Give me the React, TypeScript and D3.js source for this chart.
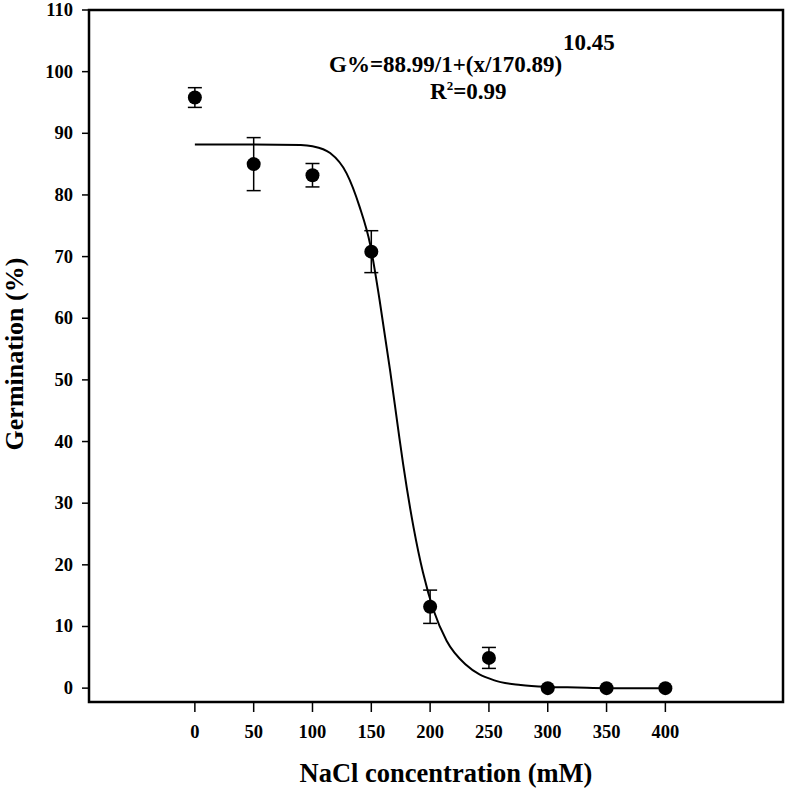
import React, { useEffect, useRef } from 'react';
import * as d3 from 'd3';

// NaCl concentration (mM) and mean germination (%) with error bars
const nacl = [0, 50, 100, 150, 200, 250, 300, 350, 400];
const germination = [95.8, 85.0, 83.2, 70.8, 13.2, 4.9, 0, 0, 0];
const errors = [1.6, 4.3, 1.9, 3.4, 2.7, 1.7, 0, 0, 0];

// fitted curve
const fitX = [0, 50, 90, 100, 115, 129, 140, 149, 157, 166, 173, 177, 186, 194, 203, 214, 231, 254, 277, 300, 325, 350, 400];
const fitY = [88.2, 88.2, 88.1, 87.9, 86.8, 83.5, 78.1, 72.0, 63.0, 51.5, 41.8, 36.4, 26.0, 18.7, 12.6, 7.7, 3.7, 1.3, 0.5, 0.2, 0.1, 0, 0];

const xTicks = [0, 50, 100, 150, 200, 250, 300, 350, 400];
const yTicks = [0, 10, 20, 30, 40, 50, 60, 70, 80, 90, 100, 110];

const equation = 'G%=88.99/1+(x/170.89)';
const exponent = '10.45';
const rSquared = '=0.99';

const FONT = '"Liberation Serif", "Times New Roman", serif';

const App: React.FC = () => {
  const svgRef = useRef<SVGSVGElement>(null);

  useEffect(() => {
    if (!svgRef.current) return;
    const svg = d3.select(svgRef.current);
    svg.selectAll('*').remove();

    const left = 89, right = 783, top = 10, bottom = 702;

    const x = d3.scaleLinear().domain([-90, 500]).range([left, right]);
    const y = d3.scaleLinear().domain([-2.25, 110]).range([bottom, top]);

    svg.append('rect')
      .attr('x', left)
      .attr('y', top)
      .attr('width', right - left)
      .attr('height', bottom - top)
      .attr('fill', 'none')
      .attr('stroke', '#000')
      .attr('stroke-width', 2.5);

    // y ticks
    const yAxis = svg.append('g');
    yTicks.forEach(t => {
      yAxis.append('line')
        .attr('x1', left - 7)
        .attr('x2', left)
        .attr('y1', y(t))
        .attr('y2', y(t))
        .attr('stroke', '#000')
        .attr('stroke-width', 1.5);
      yAxis.append('text')
        .attr('x', left - 16)
        .attr('y', y(t) + 6)
        .attr('text-anchor', 'end')
        .style('font-family', FONT)
        .style('font-size', '18.5px')
        .style('font-weight', 'bold')
        .text(t);
    });

    // x ticks
    const xAxis = svg.append('g');
    xTicks.forEach(t => {
      xAxis.append('line')
        .attr('x1', x(t))
        .attr('x2', x(t))
        .attr('y1', bottom)
        .attr('y2', bottom + 10)
        .attr('stroke', '#000')
        .attr('stroke-width', 1.5);
      xAxis.append('text')
        .attr('x', x(t))
        .attr('y', 738)
        .attr('text-anchor', 'middle')
        .style('font-family', FONT)
        .style('font-size', '18.5px')
        .style('font-weight', 'bold')
        .text(t);
    });

    svg.append('text')
      .attr('x', 446)
      .attr('y', 782)
      .attr('text-anchor', 'middle')
      .style('font-family', FONT)
      .style('font-size', '26.5px')
      .style('font-weight', 'bold')
      .text('NaCl concentration (mM)');

    svg.append('text')
      .attr('transform', 'translate(23,354) rotate(-90)')
      .attr('text-anchor', 'middle')
      .style('font-family', FONT)
      .style('font-size', '26px')
      .style('font-weight', 'bold')
      .text('Germination (%)');

    // fitted curve
    const fitData = fitX.map((v, i) => ({ x: v, y: fitY[i] }));
    const line = d3.line<{ x: number, y: number }>()
      .x(d => x(d.x))
      .y(d => y(d.y))
      .curve(d3.curveMonotoneX);

    svg.append('path')
      .datum(fitData)
      .attr('fill', 'none')
      .attr('stroke', '#000')
      .attr('stroke-width', 2)
      .attr('d', line);

    // error bars and points
    const points = nacl.map((v, i) => ({ x: v, y: germination[i], e: errors[i] }));
    const bars = svg.append('g');
    points.filter(d => d.e > 0).forEach(d => {
      bars.append('line')
        .attr('x1', x(d.x)).attr('x2', x(d.x))
        .attr('y1', y(d.y - d.e)).attr('y2', y(d.y + d.e))
        .attr('stroke', '#000').attr('stroke-width', 1.5);
      [d.y - d.e, d.y + d.e].forEach(v => {
        bars.append('line')
          .attr('x1', x(d.x) - 7).attr('x2', x(d.x) + 7)
          .attr('y1', y(v)).attr('y2', y(v))
          .attr('stroke', '#000').attr('stroke-width', 1.5);
      });
    });

    svg.selectAll('.dot')
      .data(points)
      .enter()
      .append('circle')
      .attr('class', 'dot')
      .attr('cx', d => x(d.x))
      .attr('cy', d => y(d.y))
      .attr('r', 7)
      .attr('fill', '#000');

    // equation
    svg.append('text')
      .attr('x', 329)
      .attr('y', 72)
      .style('font-family', FONT)
      .style('font-size', '23px')
      .style('font-weight', 'bold')
      .text(equation);

    svg.append('text')
      .attr('x', 563)
      .attr('y', 50)
      .style('font-family', FONT)
      .style('font-size', '23px')
      .style('font-weight', 'bold')
      .text(exponent);

    const r2 = svg.append('text')
      .attr('x', 430)
      .attr('y', 99)
      .style('font-family', FONT)
      .style('font-size', '23px')
      .style('font-weight', 'bold');
    r2.append('tspan').text('R');
    r2.append('tspan').attr('dy', -9).style('font-size', '13px').text('2');
    r2.append('tspan').attr('dy', 9).text(rSquared);
  }, []);

  return (
    <div style={{ position: 'absolute', left: 0, top: 0 }}>
      <svg ref={svgRef} width={788} height={791} style={{ display: 'block', background: '#fff' }}></svg>
    </div>
  );
};

export default App;
